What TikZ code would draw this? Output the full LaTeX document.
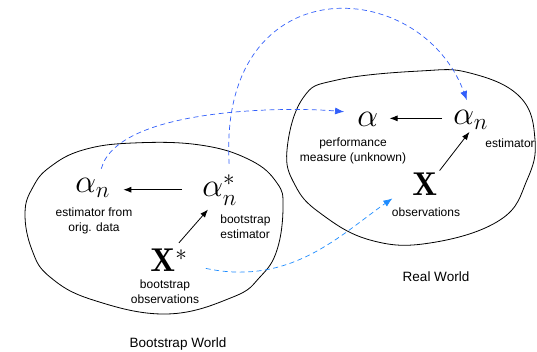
\RequirePackage{fix-cm}
\documentclass[tikz,border=0pt]{standalone}
\usepackage{amsmath,amssymb}
\usepackage{fontspec}
\setsansfont{Liberation Sans}
\usepackage{tikz}
\usetikzlibrary{arrows.meta}
\definecolor{farblue}{RGB}{50,95,250}
\definecolor{nearblue}{RGB}{30,140,255}

\begin{document}
\begin{tikzpicture}[x=1pt,y=1pt,line width=0.8pt,
  sym/.style={inner sep=0pt,anchor=base west,font=\fontsize{33}{36}\selectfont},
  lab/.style={align=center,inner sep=0pt,font=\sffamily\fontsize{12}{15}\selectfont},
  world/.style={inner sep=0pt,font=\sffamily\fontsize{13.5}{15}\selectfont},
  estarrow/.style={-{Latex[length=8pt,width=6pt]}},
  link/.style={line width=0.7pt,dash pattern=on 5pt off 3.5pt,-{Latex[length=9pt,width=7pt]}}]
\path[use as bounding box] (0,0) rectangle (537,352);
% the two worlds
\draw plot[smooth cycle,tension=0.7] coordinates {(25,139) (33,165) (50,185) (83,202) (133,209)
  (200,207) (250,192) (277,169) (283,145) (277,102) (260,75) (233,55) (167,38) (93,52)
  (50,75) (32,102)};
\draw plot[smooth cycle,tension=0.7] coordinates {(287,202) (303,254) (337,272) (420,281)
  (470,279) (520,255) (535,212) (527,172) (500,132) (430,109) (370,112) (320,139) (295,167)};
% real world
\node[sym] (alpha) at (357,225) {$\alpha$};
\node[sym] (alphan) at (453,227) {$\alpha_n$};
\node[sym] (obs) at (412,156) {$\mathbf{X}$};
\node[lab] (alphatxt) at (353,201) {performance\\measure (unknown)};
\node[lab] (alphantxt) at (510,209) {estimator};
\node[lab] (obstxt) at (426,140) {observations};
\node[world] (real) at (436,75) {Real World};
% bootstrap world
\node[sym] (balphan) at (75,159) {$\alpha_n$};
\node[sym] (balphastar) at (202,155) {$\alpha_n^*$};
\node[sym] (bobs) at (150,80) {$\mathbf{X}^*$};
\node[lab] (balphantxt) at (94,131) {estimator from\\orig. data};
\node[lab,align=left,anchor=west] (balphastartxt) at (220,125) {bootstrap\\estimator};
\node[lab] (bobstxt) at (165,60) {bootstrap\\observations};
\node[world] (boot) at (178,8) {Bootstrap World};
% estimates
\draw[estarrow,shorten <=11pt,shorten >=11pt] ([yshift=2pt]alphan.west) -- ([yshift=2pt]alphan.west -| alpha.east);
\draw[estarrow,shorten <=3pt,shorten >=2pt] (obs.north east) -- (alphan.south);
\draw[estarrow,shorten <=20pt,shorten >=13pt] (balphastar.west) -- (balphastar.west -| balphan.east);
\draw[estarrow] ([xshift=10pt,yshift=6pt]bobs.north) -- ([xshift=6pt,yshift=-4pt]balphastar.south west);
% links between the worlds
\draw[link,farblue,shorten <=10pt,shorten >=13pt] ([xshift=6pt]balphan.north)
  to[out=75,in=175,looseness=0.7] ([yshift=7pt]alpha.west);
\draw[link,farblue,shorten <=10pt,shorten >=11pt] ([xshift=10pt]balphastar.north)
  .. controls (218,386) and (420,378) .. (alphan.north);
\draw[link,nearblue,shorten >=24pt] ([xshift=18pt,yshift=4pt]bobs.south east)
  to[out=-12,in=215] (obs.west);
\end{tikzpicture}
\end{document}
